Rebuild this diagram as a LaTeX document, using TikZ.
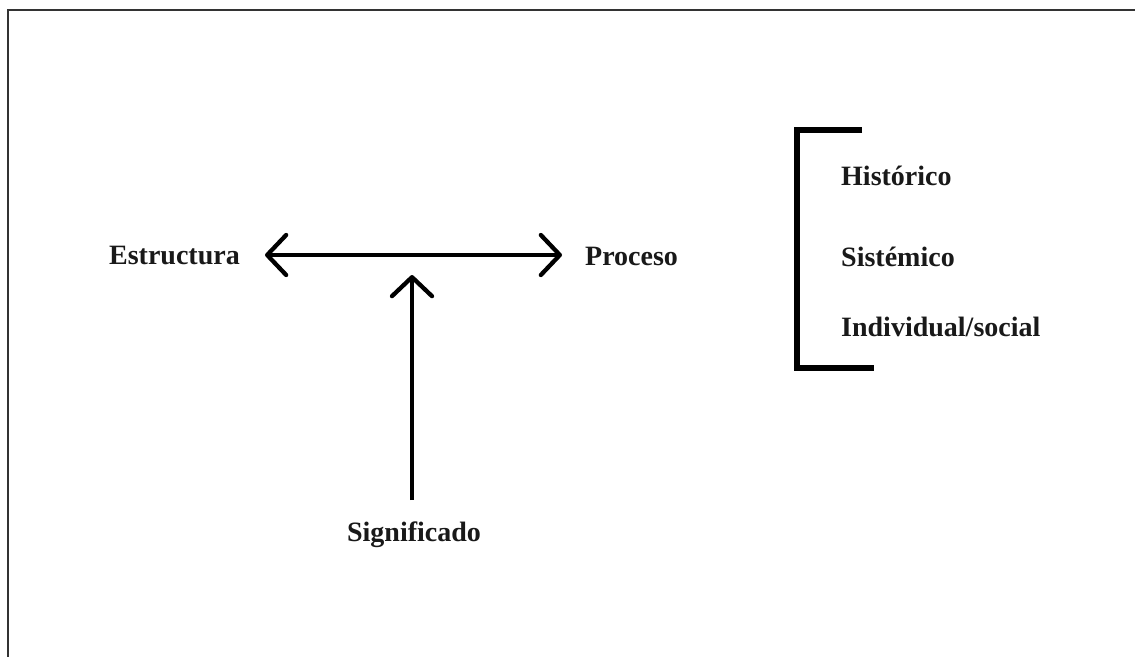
\documentclass[tikz,border=0pt]{standalone}
\usepackage{fontspec}
\setmainfont{Liberation Serif}
\usetikzlibrary{arrows.meta}
\begin{document}
\begin{tikzpicture}[x=1pt,y=-1pt,
  lbl/.style={font=\fontsize{28}{31}\selectfont\bfseries, inner sep=0pt, text=black!90},
  arr/.style={line width=4.3pt, -{Straight Barb[length=19pt,width=40pt,round]}},
  darr/.style={line width=4.3pt, {Straight Barb[length=19pt,width=40pt,round]}-{Straight Barb[length=19pt,width=40pt,round]}},
  brk/.style={line width=5.5pt}]
\useasboundingbox (0,0) rectangle (1135,656);
\fill[white] (0,0) rectangle (1135,656);
% frame
\coordinate (fbl) at (8,660);
\coordinate (ftl) at (8,10);
\coordinate (ftr) at (1140,10);
\draw[line width=2pt, black!80] (fbl) -- (ftl) -- (ftr);
% labels
\node[lbl, anchor=east] (estr) at (240,256) {Estructura};
\node[lbl, anchor=west] (proc) at (585,256) {Proceso};
\node[lbl] (sig) at (414,535) {Significado};
\node[lbl, anchor=west] (hist) at (841,176) {Histórico};
\node[lbl, anchor=west] (sist) at (841,257) {Sistémico};
\node[lbl, anchor=west] (ind) at (841,327) {Individual/social};
% arrows
\coordinate (hl) at (265,255);
\coordinate (hr) at (562,255);
\coordinate (vb) at (412,500);
\coordinate (vt) at (412,275);
\draw[darr] (hl) -- (hr);
\draw[arr] (vb) -- (vt);
% bracket
\coordinate (b1) at (862,130);
\coordinate (b2) at (797,130);
\coordinate (b3) at (797,368);
\coordinate (b4) at (874,368);
\draw[brk] (b1) -- (b2) -- (b3) -- (b4);
\end{tikzpicture}
\end{document}
